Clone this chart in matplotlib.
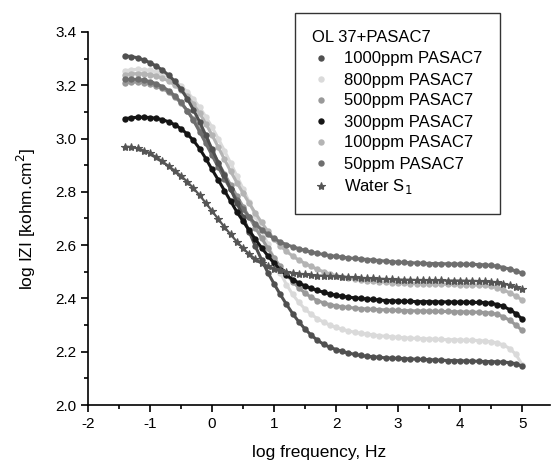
import matplotlib
matplotlib.use("Agg")
import matplotlib.pyplot as plt
from matplotlib.lines import Line2D
from matplotlib.ticker import MultipleLocator, FormatStrFormatter

plt.rcParams['font.family'] = ['Liberation Sans', 'DejaVu Sans']
plt.rcParams['axes.unicode_minus'] = False

# log frequency grid (Hz)
log_freq = [-1.4, -1.3, -1.2, -1.1, -1.0, -0.9, -0.8, -0.7, -0.6, -0.5,
            -0.4, -0.3, -0.2, -0.1, 0.0, 0.1, 0.2, 0.3, 0.4, 0.5,
            0.6, 0.7, 0.8, 0.9, 1.0, 1.1, 1.2, 1.3, 1.4, 1.5,
            1.6, 1.7, 1.8, 1.9, 2.0, 2.1, 2.2, 2.3, 2.4, 2.5,
            2.6, 2.7, 2.8, 2.9, 3.0, 3.1, 3.2, 3.3, 3.4, 3.5,
            3.6, 3.7, 3.8, 3.9, 4.0, 4.1, 4.2, 4.3, 4.4, 4.5,
            4.6, 4.7, 4.8, 4.9, 5.0]

z_1000 = [3.310, 3.308, 3.303, 3.295, 3.285, 3.272, 3.257, 3.238, 3.215, 3.185,
          3.150, 3.108, 3.063, 3.012, 2.960, 2.910, 2.862, 2.810, 2.760, 2.705,
          2.650, 2.595, 2.545, 2.497, 2.455, 2.415, 2.378, 2.343, 2.312, 2.285,
          2.262, 2.243, 2.228, 2.217, 2.208, 2.201, 2.195, 2.190, 2.186, 2.183,
          2.181, 2.179, 2.177, 2.176, 2.175, 2.174, 2.173, 2.172, 2.171, 2.170,
          2.169, 2.168, 2.167, 2.167, 2.166, 2.165, 2.165, 2.164, 2.163, 2.163,
          2.162, 2.161, 2.159, 2.155, 2.146]

z_800 = [3.255, 3.258, 3.260, 3.259, 3.256, 3.251, 3.243, 3.232, 3.217, 3.198,
         3.175, 3.148, 3.117, 3.082, 3.043, 3.000, 2.955, 2.908, 2.860, 2.812,
         2.762, 2.710, 2.657, 2.603, 2.550, 2.497, 2.452, 2.415, 2.385, 2.360,
         2.340, 2.324, 2.311, 2.300, 2.291, 2.284, 2.278, 2.273, 2.269, 2.266,
         2.263, 2.260, 2.258, 2.256, 2.254, 2.252, 2.251, 2.250, 2.249, 2.248,
         2.247, 2.246, 2.245, 2.245, 2.244, 2.243, 2.243, 2.242, 2.240, 2.237,
         2.233, 2.225, 2.212, 2.190, 2.152]

z_500 = [3.210, 3.212, 3.212, 3.210, 3.205, 3.198, 3.188, 3.174, 3.156, 3.133,
         3.105, 3.072, 3.035, 2.995, 2.953, 2.910, 2.868, 2.826, 2.785, 2.745,
         2.705, 2.665, 2.626, 2.588, 2.552, 2.520, 2.490, 2.463, 2.440, 2.420,
         2.404, 2.392, 2.383, 2.377, 2.372, 2.369, 2.366, 2.364, 2.362, 2.360,
         2.359, 2.358, 2.357, 2.356, 2.355, 2.354, 2.354, 2.353, 2.353, 2.352,
         2.352, 2.351, 2.351, 2.350, 2.350, 2.349, 2.349, 2.348, 2.347, 2.345,
         2.340, 2.331, 2.318, 2.300, 2.280]

z_300 = [3.075, 3.078, 3.080, 3.080, 3.079, 3.076, 3.071, 3.063, 3.052, 3.037,
         3.017, 2.993, 2.962, 2.925, 2.884, 2.845, 2.805, 2.765, 2.725, 2.690,
         2.655, 2.622, 2.590, 2.560, 2.532, 2.508, 2.488, 2.471, 2.458, 2.447,
         2.438, 2.430, 2.423, 2.417, 2.412, 2.408, 2.405, 2.402, 2.400, 2.398,
         2.396, 2.394, 2.392, 2.391, 2.390, 2.389, 2.389, 2.388, 2.388, 2.388,
         2.387, 2.387, 2.387, 2.386, 2.386, 2.386, 2.385, 2.385, 2.384, 2.382,
         2.377, 2.370, 2.358, 2.343, 2.323]

z_100 = [3.240, 3.243, 3.244, 3.243, 3.240, 3.235, 3.227, 3.216, 3.201, 3.182,
         3.158, 3.129, 3.095, 3.056, 3.013, 2.968, 2.922, 2.877, 2.835, 2.795,
         2.757, 2.720, 2.685, 2.652, 2.623, 2.598, 2.577, 2.559, 2.544, 2.531,
         2.520, 2.509, 2.500, 2.492, 2.485, 2.480, 2.476, 2.473, 2.470, 2.467,
         2.465, 2.463, 2.461, 2.459, 2.458, 2.457, 2.456, 2.456, 2.455, 2.455,
         2.454, 2.454, 2.453, 2.453, 2.452, 2.452, 2.451, 2.450, 2.449, 2.446,
         2.441, 2.432, 2.421, 2.409, 2.394]

z_50 = [3.222, 3.223, 3.222, 3.219, 3.214, 3.206, 3.195, 3.180, 3.161, 3.136,
        3.105, 3.068, 3.026, 2.982, 2.937, 2.893, 2.850, 2.810, 2.770, 2.735,
        2.705, 2.680, 2.658, 2.640, 2.625, 2.612, 2.602, 2.594, 2.587, 2.580,
        2.574, 2.569, 2.565, 2.561, 2.558, 2.555, 2.552, 2.550, 2.548, 2.546,
        2.544, 2.542, 2.540, 2.538, 2.536, 2.535, 2.534, 2.533, 2.532, 2.531,
        2.531, 2.530, 2.530, 2.529, 2.529, 2.528, 2.528, 2.527, 2.526, 2.524,
        2.521, 2.516, 2.510, 2.503, 2.495]

z_water = [2.970, 2.968, 2.963, 2.955, 2.945, 2.930, 2.914, 2.897, 2.879, 2.860,
           2.838, 2.814, 2.787, 2.758, 2.728, 2.698, 2.668, 2.640, 2.613, 2.588,
           2.566, 2.548, 2.533, 2.521, 2.512, 2.505, 2.500, 2.496, 2.493, 2.490,
           2.488, 2.486, 2.485, 2.484, 2.483, 2.482, 2.480, 2.479, 2.477, 2.476,
           2.475, 2.474, 2.473, 2.472, 2.471, 2.470, 2.470, 2.469, 2.469, 2.468,
           2.468, 2.468, 2.467, 2.467, 2.467, 2.466, 2.466, 2.465, 2.464, 2.463,
           2.460, 2.456, 2.450, 2.443, 2.435]

labels = ['1000ppm PASAC7', '800ppm PASAC7', '500ppm PASAC7', '300ppm PASAC7',
          '100ppm PASAC7', '50ppm PASAC7', 'Water S$_1$']
series = [z_1000, z_800, z_500, z_300, z_100, z_50, z_water]
colors = ['#505050', '#dadada', '#999999', '#151515', '#b4b4b4', '#6e6e6e', '#555555']
markers = ['o', 'o', 'o', 'o', 'o', 'o', '*']
# drawing order (back to front)
order = [1, 4, 2, 5, 0, 3, 6]

fig = plt.figure(figsize=(5.51, 4.61), dpi=100)
ax = fig.add_axes([88 / 551, 56 / 461, 462 / 551, 373 / 461])

for i in order:
    if markers[i] == '*':
        ax.plot(log_freq, series[i], color=colors[i], lw=1.6, marker='*',
                ms=6, mew=0.8)
    else:
        ax.plot(log_freq, series[i], color=colors[i], lw=2.2, marker='o',
                ms=4.6, mew=0)

ax.set_xlim(-2, 5.45)
ax.set_ylim(2.0, 3.4)
ax.xaxis.set_major_locator(MultipleLocator(1))
ax.xaxis.set_minor_locator(MultipleLocator(0.5))
ax.yaxis.set_major_locator(MultipleLocator(0.2))
ax.yaxis.set_minor_locator(MultipleLocator(0.1))
ax.yaxis.set_major_formatter(FormatStrFormatter('%.1f'))
ax.spines['top'].set_visible(False)
ax.spines['right'].set_visible(False)
for s in ['left', 'bottom']:
    ax.spines[s].set_linewidth(1.2)
ax.tick_params(which='major', direction='out', length=5, width=1.2, labelsize=11)
ax.tick_params(which='minor', direction='out', length=3, width=1.2)

ax.set_xlabel('log frequency, Hz', fontsize=12.5, labelpad=10)
ax.set_ylabel('log IZI [kohm.cm$^2$]', fontsize=12.5, labelpad=12)

handles = [Line2D([], [], ls='none', marker=markers[i], color=colors[i],
                  ms=6 if markers[i] == '*' else 4.6, mew=0.8 if markers[i] == '*' else 0)
           for i in range(7)]
leg = ax.legend(handles, labels, title='OL 37+PASAC7', loc='upper left',
                bbox_to_anchor=(295 / 551, 1 - 13 / 461), bbox_transform=fig.transFigure,
                borderaxespad=0, fontsize=12, title_fontsize=12, frameon=True,
                fancybox=False, edgecolor='black', handlelength=1.0, handletextpad=0.9,
                labelspacing=0.36, borderpad=1.05, alignment='left')
leg.get_frame().set_linewidth(1.0)

fig.savefig('out.png', dpi=100)
